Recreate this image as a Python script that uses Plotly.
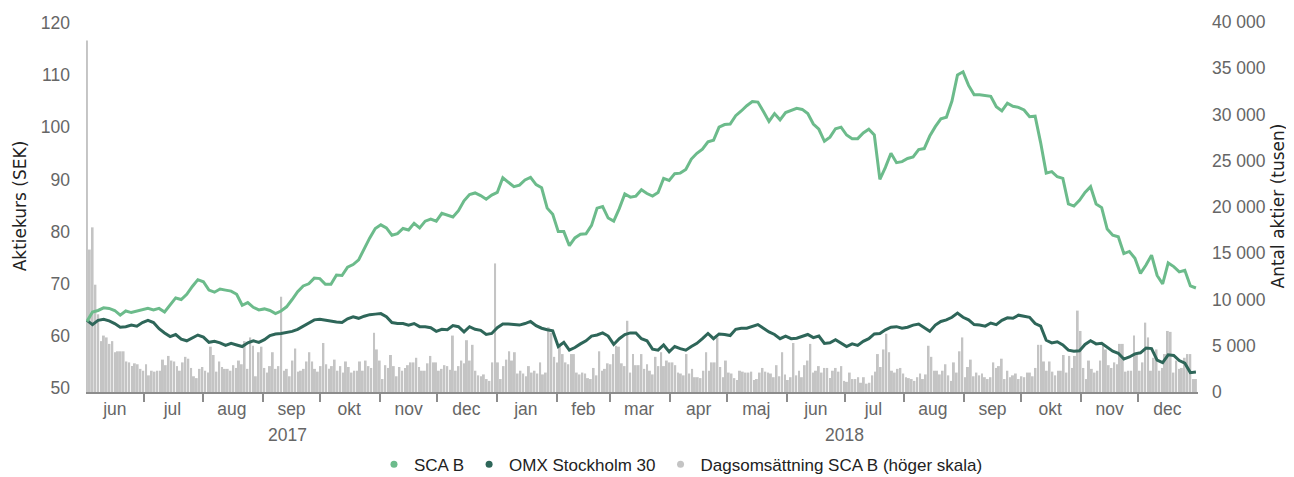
import pandas as pd
import plotly.graph_objects as go

# ---------------- data ----------------
month_labels = ["jun", "jul", "aug", "sep", "okt", "nov", "dec",
                "jan", "feb", "mar", "apr", "maj", "jun", "jul", "aug", "sep", "okt", "nov", "dec"]
month_mid = ["2017-06-16", "2017-07-16", "2017-08-16", "2017-09-16", "2017-10-16", "2017-11-16",
             "2017-12-16", "2018-01-16", "2018-02-15", "2018-03-16", "2018-04-16", "2018-05-16",
             "2018-06-16", "2018-07-16", "2018-08-16", "2018-09-16", "2018-10-16", "2018-11-16",
             "2018-12-16"]
month_start = ["2017-07-01", "2017-08-01", "2017-09-01", "2017-10-01", "2017-11-01", "2017-12-01",
               "2018-01-01", "2018-02-01", "2018-03-01", "2018-04-01", "2018-05-01", "2018-06-01",
               "2018-07-01", "2018-08-01", "2018-09-01", "2018-10-01", "2018-11-01", "2018-12-01"]
year_labels = ["2017", "2018"]
year_pos = ["2017-09-14", "2018-07-01"]

left_ticks = [50, 60, 70, 80, 90, 100, 110, 120]
right_ticks = [0, 5000, 10000, 15000, 20000, 25000, 30000, 35000, 40000]
right_ticktext = ["0", "5 000", "10 000", "15 000", "20 000", "25 000", "30 000", "35 000", "40 000"]

# SCA B share price (SEK)
sca_b = [62.8, 64.6, 64.9, 65.4, 65.3, 64.9, 64.0, 64.8, 64.5, 64.8,
         65.1, 65.3, 65.0, 65.3, 64.6, 65.9, 67.3, 67.0, 68.0, 69.5,
         70.8, 70.4, 68.8, 68.4, 69.0, 68.8, 68.6, 68.0, 65.9, 66.4,
         65.5, 65.0, 65.2, 64.9, 64.3, 64.8, 65.6, 67.0, 68.5, 69.6,
         70.0, 71.1, 71.0, 69.9, 69.9, 71.7, 71.6, 73.2, 73.7, 74.6,
         76.8, 78.8, 80.6, 81.3, 80.7, 79.3, 79.6, 80.6, 80.3, 81.6,
         80.7, 82.0, 82.4, 82.0, 83.5, 83.1, 82.8, 84.0, 85.9, 87.1,
         87.4, 86.9, 86.2, 87.0, 87.5, 90.3, 89.4, 88.6, 88.9, 89.9,
         90.4, 89.0, 88.4, 84.5, 83.3, 80.0, 80.0, 77.3, 78.8, 79.5,
         79.6, 81.2, 84.5, 84.8, 82.6, 82.0, 84.4, 87.2, 86.6, 86.8,
         88.0, 87.3, 86.8, 87.5, 90.2, 89.8, 91.1, 91.2, 91.9, 93.9,
         95.0, 95.8, 97.2, 97.5, 100.0, 100.5, 100.6, 102.2, 103.1, 104.1,
         104.9, 104.8, 103.0, 101.1, 102.6, 101.4, 102.8, 103.2, 103.6, 103.4,
         102.6, 100.6, 99.6, 97.3, 98.1, 99.7, 100.0, 98.5, 97.8, 97.8,
         98.9, 99.6, 98.5, 90.0, 92.3, 95.0, 93.2, 93.4, 94.0, 94.3,
         95.7, 95.9, 98.3, 100.1, 101.6, 101.9, 105.0, 110.0, 110.6, 108.0,
         106.2, 106.2, 106.0, 105.9, 103.9, 103.1, 104.6, 104.0, 103.8, 103.3,
         102.0, 102.1, 97.0, 91.2, 91.5, 90.5, 90.2, 85.3, 84.9, 86.0,
         87.5, 88.6, 85.3, 84.6, 80.5, 79.3, 79.0, 75.8, 76.2, 74.9,
         72.0, 73.6, 75.5, 71.6, 70.0, 74.0, 73.3, 72.3, 72.6, 69.6,
         69.2]

# OMX Stockholm 30 (rebased, SEK scale)
omx = [63.0, 62.2, 63.0, 63.2, 62.9, 62.4, 61.7, 61.8, 62.1, 61.9,
       62.6, 63.0, 62.6, 61.4, 60.6, 59.9, 60.3, 59.4, 59.1, 59.7,
       60.2, 59.8, 58.8, 59.0, 58.7, 58.2, 58.6, 58.3, 58.0, 58.7,
       59.1, 58.8, 59.3, 60.1, 60.4, 60.5, 60.7, 60.9, 61.3, 61.9,
       62.6, 63.1, 63.2, 63.0, 62.8, 62.7, 62.6, 63.3, 63.7, 63.4,
       63.8, 64.1, 64.2, 64.3, 63.7, 62.6, 62.4, 62.4, 62.1, 62.4,
       61.8, 61.8, 61.6, 60.9, 61.3, 61.2, 62.0, 61.8, 60.8, 61.8,
       61.3, 61.1, 60.3, 60.5, 61.6, 62.3, 62.3, 62.2, 62.1, 62.4,
       62.8, 62.0, 61.5, 61.2, 61.0, 58.0, 58.8, 57.3, 57.8, 58.5,
       59.1, 60.0, 60.2, 60.6, 60.0, 58.4, 59.5, 60.3, 60.6, 60.6,
       59.5, 59.1, 57.5, 57.3, 58.3, 57.0, 58.0, 57.6, 57.3, 58.0,
       58.6, 59.5, 60.5, 59.5, 60.4, 60.3, 60.1, 61.3, 61.5, 61.5,
       61.8, 62.2, 61.5, 60.8, 60.3, 59.5, 60.0, 59.5, 59.6, 60.0,
       60.3, 59.7, 60.0, 58.6, 58.7, 59.3, 58.6, 58.0, 58.5, 58.2,
       59.0, 59.5, 60.4, 60.5, 61.2, 61.7, 61.8, 61.5, 61.7, 62.1,
       62.3, 61.6, 60.9, 62.1, 62.8, 63.1, 63.6, 64.4, 63.6, 63.1,
       62.2, 62.1, 61.9, 62.5, 62.2, 63.0, 63.5, 63.4, 64.0, 63.8,
       63.6, 62.4, 61.9, 59.2, 58.7, 58.9, 58.3, 57.3, 57.1, 57.2,
       58.4, 59.1, 58.5, 58.6, 57.9, 57.1, 56.7, 55.6, 56.0, 56.6,
       56.8, 57.7, 57.6, 55.4, 54.9, 56.4, 56.3, 55.3, 54.8, 53.0,
       53.1]

# Daily turnover SCA B (thousands of shares)
volume = [38000, 15400, 17800, 11600, 8400, 5500, 6100, 5900, 5200, 5500,
          4300, 4400, 4400, 4400, 3300, 3200, 2800, 3100, 3000, 2500,
          2300, 3000, 1800, 2300, 2200, 2300, 2300, 3500, 2900, 3900,
          3400, 3300, 2800, 2300, 3200, 3800, 3600, 2600, 1700, 1500,
          2500, 2700, 2300, 2100, 4900, 4000, 2200, 3300, 2700, 2500,
          2500, 2300, 2900, 2600, 3400, 3000, 5500, 2500, 5900, 5000,
          1700, 4300, 4900, 2600, 2100, 2800, 4300, 2500, 2800, 10300,
          2300, 2500, 1700, 3400, 4700, 2200, 2300, 2500, 3300, 4300,
          3300, 2500, 2200, 2800, 5300, 3000, 2500,
          2800, 3500, 2300, 2800, 2100, 3300, 2700, 2100, 2300, 2300,
          3300, 2300, 3400, 2800, 2600, 6400, 4600, 3400, 1400, 2900,
          2600, 4000, 2800, 1700, 2700, 2300, 2600, 2900, 3200, 3200,
          3700, 2700, 2300, 2300, 3100, 3900, 3200, 3200, 2300, 2500,
          2900, 2800, 2400, 6100, 2300, 2800, 3400, 3100, 5600, 3400,
          5100, 2300, 1800, 1700, 1900, 1400, 1200, 3200, 13900, 3200,
          1400, 2800, 3500, 4400, 3400, 4300, 2000, 2300, 2000, 1700,
          2800, 2100, 2300, 2000, 3200,
          1900, 2100, 7000, 6400, 3800, 3200, 5200, 4100, 3200, 3000,
          4100, 4100, 2100, 1900, 2100, 2000, 1500, 1400, 2600, 1800,
          4400, 2300, 2500, 3100, 3000, 4100, 5000, 4900, 3100, 2800,
          7700, 2100, 4100, 2900, 2900, 4100, 2500, 3000, 2300, 1900,
          3800, 2800, 4300, 2800, 3400, 3200, 3200, 2900, 2100, 2000,
          1800, 4100, 2000, 2500, 1600, 1600, 1500, 2300, 4300, 2300,
          3200, 3200, 5900, 2700, 1600, 3400, 2100, 2000, 1500, 1300,
          2300, 2200, 2100, 2100, 2200, 1300, 1400, 2100,
          2600, 2200, 2100, 2000, 1600, 2900, 1700, 4300, 1900, 1300,
          1600, 5300, 1800, 2300, 1600, 2900, 3400, 5200, 2100, 2300,
          2800, 2100, 2600, 2600, 1500, 2300, 2600, 2200, 2800, 1200,
          1100, 2100, 1400, 1400, 1600, 1000, 1600, 900, 1000, 1800,
          2200, 4100, 2700, 4600, 6300, 4300, 2300, 2100, 2500, 2600,
          2000, 1600, 1500, 1400, 1200, 1600, 2000, 1400, 1900, 5000,
          3800, 2300, 2300, 1900, 2300, 3000, 1800, 1200, 3200, 2100,
          4400, 5900, 1600, 2700, 3500, 1700, 2100,
          1800, 2000, 1600, 1400, 1600, 3200, 2600, 2800, 3600, 1400,
          2300, 1600, 1800, 2000, 1400, 1700, 1600, 2100, 2100, 1700,
          2600, 5100, 5100, 3300, 2300, 3300, 2200, 1800, 2300, 2300,
          4000, 2100, 3900, 2600, 3900, 8800, 6600, 2600, 1400, 3400,
          2500, 2100, 2300, 3400, 5100, 4600, 2900, 2600, 3200, 3000,
          5200, 5200, 2200, 2300, 2300, 6100, 4100, 2300, 3200, 7500,
          5900, 2300, 3700, 4600, 2300, 2600, 4100, 6600, 6500, 2100,
          3400, 2500, 2600, 3700, 4100, 4100, 1400, 1400]

price_dates = pd.date_range("2017-06-01 12:00", "2018-12-30 22:00", periods=len(sca_b))
volume_dates = pd.date_range("2017-06-01 12:00", "2018-12-30 22:00", periods=len(volume))

# ---------------- styling ----------------
C_SCA = "#6cbb8b"
C_OMX = "#2e6659"
C_VOL = "#c4c4c4"
C_AXIS = "#8c8c8c"
C_TICK = "#666666"
C_TEXT = "#222222"
FONT = "Arial, Liberation Sans, Helvetica, sans-serif"
TITLE_FONT = "DejaVu Sans, Arial, sans-serif"

fig = go.Figure()

# bars on primary y (right side) so that the lines are drawn on top
fig.add_trace(go.Bar(x=volume_dates, y=volume, marker=dict(color=C_VOL, line=dict(width=0)),
                     yaxis="y", showlegend=False, legendgroup="vol",
                     name="Dagsomsättning SCA B (höger skala)"))
fig.add_trace(go.Scatter(x=price_dates, y=omx, mode="lines", line=dict(color=C_OMX, width=3),
                         yaxis="y2", showlegend=False, legendgroup="omx", name="OMX Stockholm 30"))
fig.add_trace(go.Scatter(x=price_dates, y=sca_b, mode="lines", line=dict(color=C_SCA, width=3),
                         yaxis="y2", showlegend=False, legendgroup="sca", name="SCA B"))

# legend entries (dot markers)
for name, col, grp in [("SCA B", C_SCA, "sca"), ("OMX Stockholm 30", C_OMX, "omx"),
                       ("Dagsomsättning SCA B (höger skala)", C_VOL, "vol")]:
    fig.add_trace(go.Scatter(x=[None], y=[None], mode="markers", name=name, legendgroup=grp,
                             marker=dict(color=col, size=7), yaxis="y2", showlegend=True))

annotations = []
for lbl, pos in zip(year_labels, year_pos):
    annotations.append(dict(x=pos, y=-0.1156, xref="x", yref="paper", text=lbl, showarrow=False,
                            font=dict(size=17.5, color=C_TICK, family=FONT), xanchor="center",
                            yanchor="middle"))

# the page body adds an 8px margin, so the figure is sized to fit the 1294x477 window
fig.update_layout(
    template="none",
    width=1286, height=469,
    margin=dict(l=78, r=96, t=12, b=85, pad=0),
    paper_bgcolor="white", plot_bgcolor="white",
    font=dict(family=FONT, size=17, color=C_TEXT),
    bargap=0.3,
    xaxis=dict(type="date", range=["2017-06-01", "2019-01-01"],
               tickmode="array", tickvals=month_mid, ticktext=month_labels,
               ticks="", showgrid=False, zeroline=False,
               showline=True, linecolor=C_AXIS, linewidth=1.5,
               tickfont=dict(size=17.5, color=C_TICK),
               minor=dict(tickmode="array", tickvals=month_start, ticks="outside",
                          ticklen=8, tickcolor=C_AXIS, tickwidth=1.5, showgrid=False)),
    yaxis=dict(side="right", range=[0, 40216], tickmode="array", tickvals=right_ticks,
               ticktext=right_ticktext, showgrid=False, zeroline=False, showline=False, ticks="",
               tickfont=dict(size=17.5, color=C_TICK), ticklabelstandoff=13,
               title=dict(text="Antal aktier (tusen)",
                          font=dict(size=17, color=C_TEXT, family=TITLE_FONT), standoff=7)),
    yaxis2=dict(side="left", overlaying="y", range=[49.29, 120.52], tickmode="array",
                tickvals=left_ticks, showgrid=False, zeroline=False, showline=False, ticks="",
                tickfont=dict(size=17.5, color=C_TICK), ticklabelstandoff=15,
                title=dict(text="Aktiekurs (SEK)",
                           font=dict(size=17, color=C_TEXT, family=TITLE_FONT), standoff=9)),
    legend=dict(orientation="h", xref="container", yref="container",
                x=0.2846, xanchor="left", y=0.026, yanchor="middle",
                font=dict(size=17, color=C_TEXT), itemwidth=30, bgcolor="rgba(0,0,0,0)",
                traceorder="normal"),
    annotations=annotations,
)

fig.write_html("out.html")
